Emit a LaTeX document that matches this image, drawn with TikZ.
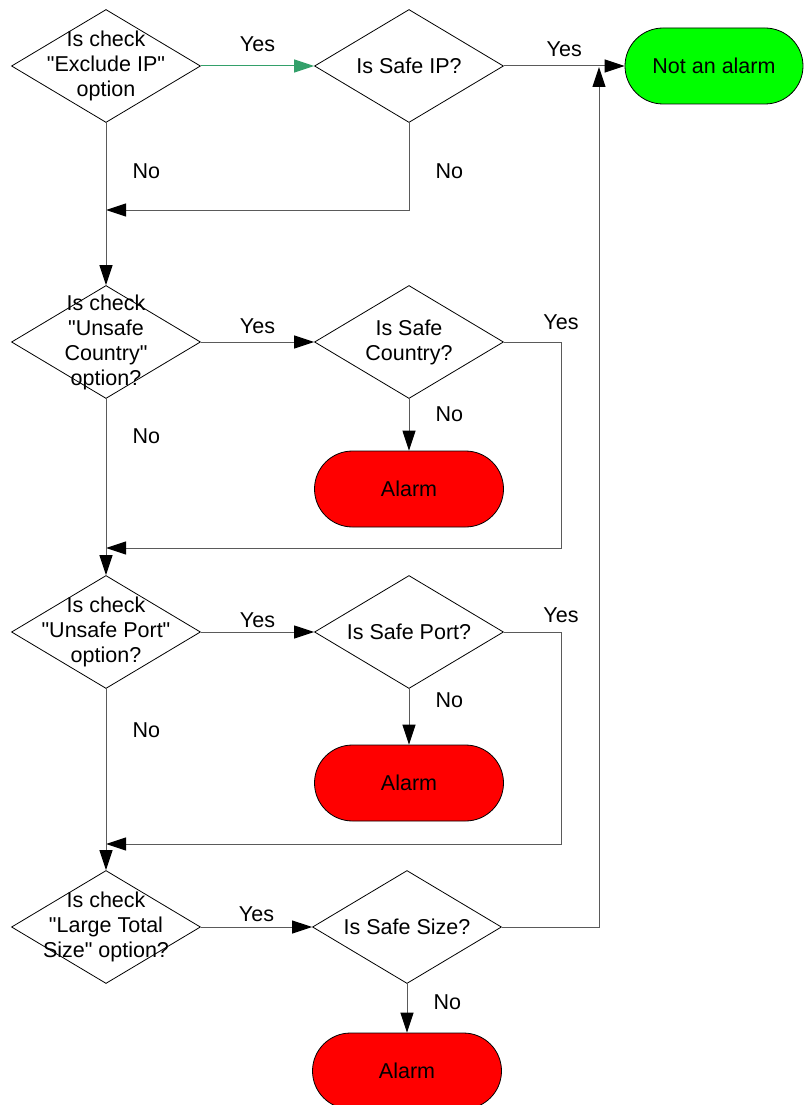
\documentclass[tikz,border=0pt]{standalone}
\usepackage{fontspec}
\setmainfont{Liberation Sans}
\usetikzlibrary{shapes.geometric,shapes.misc,arrows.meta}

\definecolor{lineGray}{HTML}{5A5A5A}
\definecolor{yesGreen}{HTML}{33A06A}
\definecolor{alarmRed}{HTML}{FF0000}
\definecolor{okGreen}{HTML}{00FF00}
\newcommand{\qq}{\textquotedbl}

\tikzset{
  decision/.style={diamond, draw=black, line width=0.8pt, minimum width=189pt,
    minimum height=113pt, inner sep=0pt, label={[align=center]center:#1}},
  terminal/.style={rounded rectangle, draw=black, line width=0.8pt,
    minimum width=189pt, minimum height=76pt, inner sep=0pt},
  line/.style={draw=lineGray, line width=1pt},
  arrow/.style={line, -{Triangle[length=20pt, width=13pt, color=black]}},
  greenarrow/.style={draw=yesGreen, line width=1pt, -{Triangle[length=20pt, width=13pt, color=yesGreen]}},
  lbl/.style={inner sep=2pt}
}

\begin{document}
\begin{tikzpicture}[x=1pt, y=-1pt, font=\fontsize{21.5}{25}\selectfont]
    \useasboundingbox (0,0) rectangle (804,1105);

    % checks on the left, tests in the middle
    \node[decision={Is check\\\qq Exclude IP\qq\\option}] at (106,66) (optIP) {};
    \node[decision={Is Safe IP?}] at (409,66) (safeIP) {};
    \node[terminal, fill=okGreen, minimum width=178pt] at (714,66) (notAlarm) {Not an alarm};

    \node[decision={Is check\\\qq Unsafe\\Country\qq\\option?}] at (106,342) (optCountry) {};
    \node[decision={Is Safe\\Country?}] at (409,342) (safeCountry) {};
    \node[terminal, fill=alarmRed] at (409,489) (alarmA) {Alarm};

    \node[decision={Is check\\\qq Unsafe Port\qq\\option?}] at (106,632) (optPort) {};
    \node[decision={Is Safe Port?}] at (409,632) (safePort) {};
    \node[terminal, fill=alarmRed] at (409,783) (alarmB) {Alarm};

    \node[decision={Is check\\\qq Large Total\\Size\qq{} option?}] at (106,927) (optSize) {};
    \node[decision={Is Safe Size?}] at (407,927) (safeSize) {};
    \node[terminal, fill=alarmRed] at (407,1071) (alarmC) {Alarm};

    % join points
    \coordinate (joinIP) at (106,210);
    \coordinate (joinCountry) at (106,548);
    \coordinate (joinPort) at (106,844);
    \coordinate (retCountry) at (561,548);
    \coordinate (retPort) at (561,844);
    \coordinate (upSize) at (599,67);

    \draw[greenarrow] (optIP) -- (safeIP) node[lbl, midway, above=12pt]{Yes};
    \draw[arrow] (safeIP) -- (notAlarm) node[lbl, midway, above=6.5pt]{Yes};
    \draw[arrow] (safeIP.south) |- (joinIP) node[lbl, pos=0.28, right=24pt]{No};
    \draw[arrow] (optIP.south) -- (optCountry.north) node[lbl, pos=0.3, right=24pt]{No};

    \draw[arrow] (optCountry) -- (safeCountry) node[lbl, midway, above=5.5pt]{Yes};
    \draw[arrow] (safeCountry.east) -| (retCountry) node[lbl, pos=0.5, above=9.5pt]{Yes} -- (joinCountry);
    \draw[arrow] (safeCountry.south) -- (alarmA.north) node[lbl, pos=0.3, right=24pt]{No};
    \draw[arrow] (optCountry.south) -- (optPort.north) node[lbl, pos=0.21, right=24pt]{No};

    \draw[arrow] (optPort) -- (safePort) node[lbl, midway, above=1.5pt]{Yes};
    \draw[arrow] (safePort.east) -| (retPort) node[lbl, pos=0.5, above=7pt]{Yes} -- (joinPort);
    \draw[arrow] (safePort.south) -- (alarmB.north) node[lbl, pos=0.2, right=24pt]{No};
    \draw[arrow] (optPort.south) -- (optSize.north) node[lbl, pos=0.23, right=24pt]{No};

    \draw[arrow] (optSize) -- (safeSize) node[lbl, midway, above=2.5pt]{Yes};
    \draw[arrow] (safeSize.east) -| (upSize);
    \draw[arrow] (safeSize.south) -- (alarmC.north) node[lbl, pos=0.38, right=24pt]{No};
  \end{tikzpicture}
\end{document}
